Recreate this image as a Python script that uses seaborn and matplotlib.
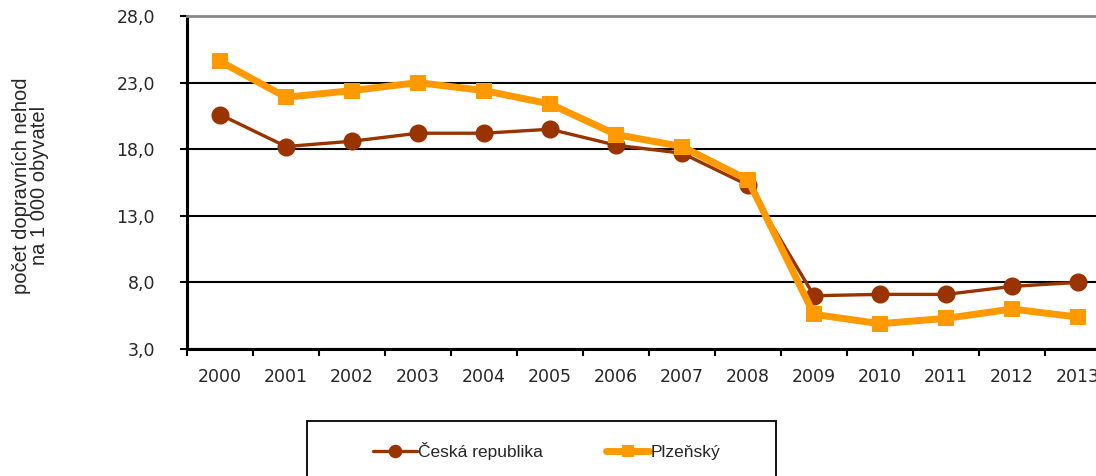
import pandas as pd
import seaborn as sns
import matplotlib.pyplot as plt
from matplotlib.ticker import FixedLocator
from matplotlib.patches import Rectangle

# data
years = ['2000', '2001', '2002', '2003', '2004', '2005', '2006',
         '2007', '2008', '2009', '2010', '2011', '2012', '2013']
cr_values = [20.6, 18.2, 18.6, 19.2, 19.2, 19.5, 18.3,
             17.7, 15.3, 7.0, 7.1, 7.1, 7.7, 8.0]
plzen_values = [24.6, 21.9, 22.4, 23.0, 22.4, 21.4, 19.1,
                18.2, 15.7, 5.6, 4.9, 5.3, 6.0, 5.4]
y_ticks = [3.0, 8.0, 13.0, 18.0, 23.0, 28.0]

df = pd.DataFrame({'rok': years, 'Česká republika': cr_values, 'Plzeňský': plzen_values})

sns.set_style('white')
plt.rcParams['font.family'] = ['Liberation Sans', 'DejaVu Sans']

fig = plt.figure(figsize=(10.96, 4.76), dpi=100)
ax = fig.add_axes([187 / 1096, 1 - 349 / 476, (1111 - 187) / 1096, 333 / 476])

sns.lineplot(data=df, x='rok', y='Česká republika', ax=ax, color='#993300',
             linewidth=2.4, marker='o', markersize=13, markeredgewidth=0,
             label='Česká republika', legend=False)
sns.lineplot(data=df, x='rok', y='Plzeňský', ax=ax, color='#FF9900',
             linewidth=5, marker='s', markersize=12, markeredgewidth=0,
             label='Plzeňský', legend=False)

ax.set_xlim(-0.5, len(years) - 0.5)
ax.set_ylim(3, 28)
ax.set_yticks(y_ticks)
ax.set_yticklabels([f'{v:.1f}'.replace('.', ',') for v in y_ticks])
ax.yaxis.grid(True, color='black', linewidth=1.5)
ax.set_axisbelow(True)

# ticks between categories, labels at category centres
ax.xaxis.set_minor_locator(FixedLocator([i - 0.5 for i in range(len(years) + 1)]))
ax.tick_params(axis='x', which='major', length=0, pad=14)
ax.tick_params(axis='x', which='minor', length=5, width=1.5, direction='out', color='black', bottom=True)
ax.tick_params(axis='y', length=5, width=1.5, direction='out', color='black', left=True, pad=18)
for t in ax.get_xticklabels() + ax.get_yticklabels():
    t.set_family('DejaVu Sans')
    t.set_fontsize(12.5)

for s in ['left', 'bottom']:
    ax.spines[s].set_color('black')
    ax.spines[s].set_linewidth(2.2)
ax.spines['top'].set_color('#888888')
ax.spines['top'].set_linewidth(2)
ax.spines['right'].set_visible(False)

ax.set_xlabel('')
ax.set_ylabel('počet dopravních nehod\nna 1 000 obyvatel', fontsize=14.5, linespacing=0.95)
ax.yaxis.set_label_coords(-0.149, 0.49)

handles, labels = ax.get_legend_handles_labels()
leg = fig.legend(handles, labels, loc='center', bbox_to_anchor=(547 / 1096, 1 - 451 / 476),
                 ncol=2, frameon=False, fontsize=12.5,
                 handlelength=2.5, handletextpad=0.1, columnspacing=3.6,
                 borderpad=0, borderaxespad=0, markerscale=0.75)

# legend box, running past the bottom edge as in the source
fig.patches.append(Rectangle((307 / 1096, -0.05), 469 / 1096, (476 - 421) / 476 + 0.05,
                             transform=fig.transFigure, fill=False,
                             edgecolor='black', linewidth=1.3))

fig.savefig('out.png', dpi=100)
